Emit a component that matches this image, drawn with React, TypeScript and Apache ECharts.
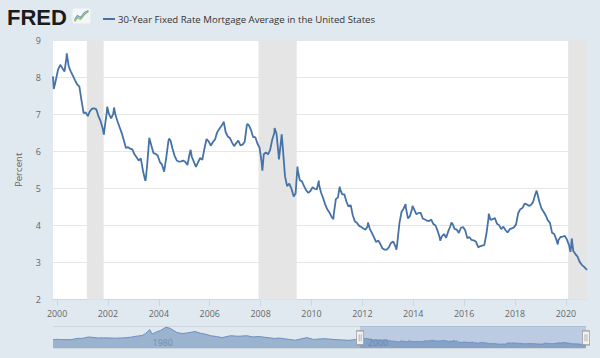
import React, { useEffect, useRef } from "react";
import * as echarts from "echarts";

// ---- data ----
const SERIES_NAME = "30-Year Fixed Rate Mortgage Average in the United States";

// lead-in weeks before 2000 (decimal year, percent)
const leadIn: [number, number][] = [
  [1999.84, 8.02], [1999.87, 7.68], [1999.92, 7.82], [1999.96, 7.95],
];

// monthly levels, Jan..Dec
const rates2000_2004 = [
  8.21, 8.33, 8.24, 8.15, 8.55, 8.29, 8.15, 8.03, 7.91, 7.80, 7.75, 7.38,
  7.03, 7.05, 6.95, 7.08, 7.15, 7.16, 7.13, 6.95, 6.82, 6.62, 6.66, 7.07,
  7.00, 6.89, 7.01, 6.99, 6.81, 6.65, 6.49, 6.29, 6.09, 6.11, 6.07, 6.05,
  5.92, 5.84, 5.75, 5.81, 5.48, 5.23, 5.63, 6.36, 6.15, 5.95, 5.93, 5.88,
  5.71, 5.64, 5.45, 5.83, 6.27, 6.29, 6.06, 5.87, 5.75, 5.72, 5.73, 5.75,
];
const rates2005_2009 = [
  5.71, 5.63, 5.93, 5.86, 5.72, 5.58, 5.70, 5.82, 5.77, 6.07, 6.33, 6.27,
  6.15, 6.25, 6.32, 6.51, 6.60, 6.68, 6.78, 6.52, 6.40, 6.36, 6.24, 6.14,
  6.22, 6.29, 6.16, 6.18, 6.26, 6.70, 6.70, 6.57, 6.38, 6.38, 6.21, 6.10,
  5.70, 5.92, 5.97, 5.92, 6.04, 6.32, 6.50, 6.48, 5.90, 6.20, 6.09, 5.33,
  5.06, 5.13, 5.00, 4.81, 4.86, 5.50, 5.22, 5.19, 5.06, 4.95, 4.88, 4.93,
];
const rates2010_2014 = [
  5.03, 4.99, 4.97, 5.12, 4.89, 4.74, 4.56, 4.43, 4.35, 4.23, 4.30, 4.71,
  4.76, 4.98, 4.84, 4.84, 4.64, 4.51, 4.55, 4.27, 4.11, 4.07, 3.99, 3.96,
  3.92, 3.89, 3.98, 3.91, 3.80, 3.68, 3.55, 3.60, 3.50, 3.38, 3.35, 3.35,
  3.41, 3.53, 3.57, 3.45, 3.54, 4.07, 4.37, 4.46, 4.49, 4.19, 4.26, 4.46,
  4.43, 4.30, 4.34, 4.34, 4.19, 4.16, 4.13, 4.12, 4.16, 4.04, 4.00, 3.86,
];
const rates2015_2020 = [
  3.67, 3.71, 3.77, 3.67, 3.84, 3.98, 4.05, 3.91, 3.89, 3.80, 3.94, 3.96,
  3.87, 3.66, 3.69, 3.61, 3.60, 3.57, 3.44, 3.44, 3.46, 3.47, 3.77, 4.20,
  4.15, 4.17, 4.20, 4.05, 4.01, 3.90, 3.97, 3.88, 3.81, 3.90, 3.92, 3.95,
  4.03, 4.33, 4.44, 4.47, 4.59, 4.57, 4.53, 4.55, 4.63, 4.83, 4.87, 4.64,
  4.46, 4.37, 4.27, 4.14, 4.07, 3.80, 3.77, 3.62, 3.61, 3.69, 3.70, 3.72,
  3.62, 3.47, 3.45, 3.31, 3.23, 3.16, 3.02, 2.94, 2.89, 2.83,
];

// weekly highs / lows visible in the picture
const weeklyExtremes: [number, number][] = [
  [2000.38, 8.64], [2001.84, 6.45], [2001.97, 7.2], [2002.24, 7.18],
  [2003.48, 5.21], [2004.40, 6.34], [2005.25, 6.04], [2006.55, 6.8],
  [2007.48, 6.74], [2008.07, 5.48], [2008.55, 6.63], [2008.72, 5.78],
  [2008.83, 6.46], [2009.30, 4.78], [2009.45, 5.59], [2010.29, 5.21],
  [2010.86, 4.17], [2011.11, 5.05], [2012.22, 4.08], [2013.34, 3.35],
  [2013.70, 4.58], [2013.97, 4.53], [2015.06, 3.59], [2015.50, 4.08],
  [2016.55, 3.41], [2016.97, 4.32], [2018.85, 4.94], [2019.68, 3.49],
  [2020.18, 3.29], [2020.23, 3.65], [2020.83, 2.80],
];

// long history for the navigator (1971-1999)
const navHistory: [number, number][] = [
  [1971.3, 7.33], [1971.6, 7.7], [1972.0, 7.45], [1972.5, 7.4], [1973.0, 7.45],
  [1973.6, 8.6], [1974.0, 8.5], [1974.6, 9.8], [1975.0, 9.4], [1975.5, 8.9],
  [1976.0, 9.0], [1976.6, 8.9], [1977.0, 8.7], [1977.6, 8.9], [1978.0, 9.0],
  [1978.6, 9.7], [1979.0, 10.4], [1979.6, 11.1], [1979.9, 12.9], [1980.3, 16.3],
  [1980.5, 12.3], [1980.9, 14.2], [1981.3, 15.6], [1981.8, 18.4], [1982.2, 17.4],
  [1982.8, 13.8], [1983.3, 12.8], [1983.8, 13.4], [1984.5, 14.6], [1985.0, 13.1],
  [1985.5, 12.2], [1986.0, 10.8], [1986.5, 10.2], [1987.0, 9.2], [1987.8, 10.9],
  [1988.5, 10.4], [1989.3, 10.9], [1989.9, 9.8], [1990.4, 10.2], [1991.0, 9.5],
  [1991.9, 8.4], [1992.3, 8.8], [1992.8, 8.2], [1993.8, 6.9], [1994.9, 9.2],
  [1995.5, 7.6], [1996.5, 8.3], [1997.5, 7.5], [1998.8, 6.8], [1999.5, 7.6],
];

const recessions: [number, number][] = [
  [2001.17, 2001.83], [2007.92, 2009.42], [2020.09, 2020.83],
];

const xTickYears = [2000, 2002, 2004, 2006, 2008, 2010, 2012, 2014, 2016, 2018, 2020];
const navLabelYears = [1980, 2000];
const X_MIN = 1999.84;
const X_MAX = 2020.83;
const NAV_MIN = 1971.3;

function monthly(startYear: number, arr: number[]): [number, number][] {
  return arr.map((v, i) => [startYear + (i + 0.5) / 12, v]);
}

const mainData: [number, number][] = [
  ...leadIn,
  ...monthly(2000, rates2000_2004),
  ...monthly(2005, rates2005_2009),
  ...monthly(2010, rates2010_2014),
  ...monthly(2015, rates2015_2020),
  ...weeklyExtremes,
].sort((a, b) => a[0] - b[0]);

const navData: [number, number][] = [...navHistory, ...mainData];

const FONT = "Open Sans";

export default function App() {
  const ref = useRef<HTMLDivElement>(null);
  useEffect(() => {
    if (!ref.current) return;
    const chart = echarts.init(ref.current, null, { renderer: "svg" });
    const option: any = {
      animation: false,
      backgroundColor: "#e1e9f0",
      textStyle: { fontFamily: FONT },
      legend: {
        left: 98,
        top: 9,
        icon: "rect",
        itemWidth: 12,
        itemHeight: 2,
        textStyle: { fontSize: 9.6, color: "#333", fontFamily: FONT, padding: [0, 0, 0, -2] },
        data: [SERIES_NAME],
        selectedMode: false,
      },
      grid: [
        { left: 53, right: 13, top: 40, height: 259.7, show: true, backgroundColor: "#ffffff", borderWidth: 0 },
        { left: 53, right: 14, top: 326, height: 22, show: false },
      ],
      xAxis: [
        {
          type: "value", gridIndex: 0, min: X_MIN, max: X_MAX,
          axisLine: { show: true, lineStyle: { color: "#ccd6eb" } },
          axisTick: { show: true, customValues: xTickYears, length: 6, lineStyle: { color: "#ccd6eb" } },
          axisLabel: { customValues: xTickYears, formatter: (v: number) => String(Math.round(v)), color: "#666", fontSize: 8.9, margin: 9, fontFamily: FONT },
          splitLine: { show: false },
        },
        {
          type: "value", gridIndex: 1, min: NAV_MIN, max: X_MAX,
          axisLine: { show: false }, axisTick: { show: false },
          axisLabel: { inside: true, customValues: navLabelYears, formatter: (v: number) => String(Math.round(v)), color: "#9aa3ad", fontSize: 8.9, margin: 1, align: "left", padding: [0, 0, 0, 6], fontFamily: FONT },
          splitLine: { show: false },
        },
      ],
      yAxis: [
        {
          type: "value", gridIndex: 0, min: 2, max: 9, interval: 1,
          name: "Percent", nameLocation: "middle", nameGap: 30,
          nameTextStyle: { color: "#666", fontSize: 9.6, fontFamily: FONT },
          axisLine: { show: false }, axisTick: { show: false },
          axisLabel: { color: "#666", fontSize: 9, margin: 12, fontFamily: FONT },
          splitLine: { show: true, lineStyle: { color: "#e6e6e6", width: 1 } },
        },
        {
          type: "value", gridIndex: 1, min: 0, max: 19.5, interval: 19.5,
          axisLine: { show: false }, axisTick: { show: false }, axisLabel: { show: false },
          splitLine: { show: true, lineStyle: { color: "#cfd6de", width: 1 } },
        },
      ],
      series: [
        {
          name: "recessions", type: "line", xAxisIndex: 0, yAxisIndex: 0, data: [], z: 1, silent: true,
          markArea: {
            silent: true,
            itemStyle: { color: "#e5e5e5" },
            data: recessions.map(([a, b]) => [{ xAxis: a }, { xAxis: b }]),
          },
        },
        {
          name: SERIES_NAME, type: "line", xAxisIndex: 0, yAxisIndex: 0, z: 3,
          data: mainData, showSymbol: false, symbol: "none",
          lineStyle: { color: "#4572a7", width: 1.8 }, itemStyle: { color: "#4572a7" },
        },
        {
          name: "navigator", type: "line", xAxisIndex: 1, yAxisIndex: 1, z: 2,
          data: navData, showSymbol: false, symbol: "none", silent: true,
          lineStyle: { color: "#6d8fc2", width: 1 },
          areaStyle: { color: "#4572a7", opacity: 0.45 },
          markArea: {
            silent: true,
            itemStyle: { color: "rgba(102,133,194,0.3)" },
            data: [[{ xAxis: X_MIN }, { xAxis: X_MAX }]],
          },
          markPoint: {
            silent: true,
            symbol: "path://M0,0H7V14H0Z M2.5,3.5V10.5 M4.5,3.5V10.5",
            symbolSize: [7, 14],
            itemStyle: { color: "#f2f2f2", borderColor: "#999", borderWidth: 1 },
            label: { show: false },
            data: [{ coord: [X_MIN, 9] }, { coord: [X_MAX, 9] }],
          },
        },
      ],
      graphic: [
        {
          type: "text", left: 7, top: 6,
          style: { text: "FRED", fontSize: 22, fontWeight: "bold", fontFamily: "Liberation Sans", fill: "#1b1b1b" },
        },
        {
          type: "group", left: 72, top: 8,
          children: [
            { type: "rect", shape: { x: 0, y: 0, width: 18, height: 15, r: 2 }, style: { fill: "#f4f6f8" } },
            { type: "polyline", shape: { points: [[2, 13], [5, 9], [8, 11], [12, 6], [16, 3]] }, style: { stroke: "#8cc063", lineWidth: 1.3, fill: "none" } },
            { type: "polyline", shape: { points: [[2, 11], [5, 7], [8, 9], [12, 4], [16, 2]] }, style: { stroke: "#6d8fc2", lineWidth: 1.1, fill: "none" } },
          ],
        },
      ],
    };
    chart.setOption(option);
    return () => chart.dispose();
  }, []);
  return <div ref={ref} style={{ position: "absolute", left: 0, top: 0, width: 600, height: 358 }} />;
}
